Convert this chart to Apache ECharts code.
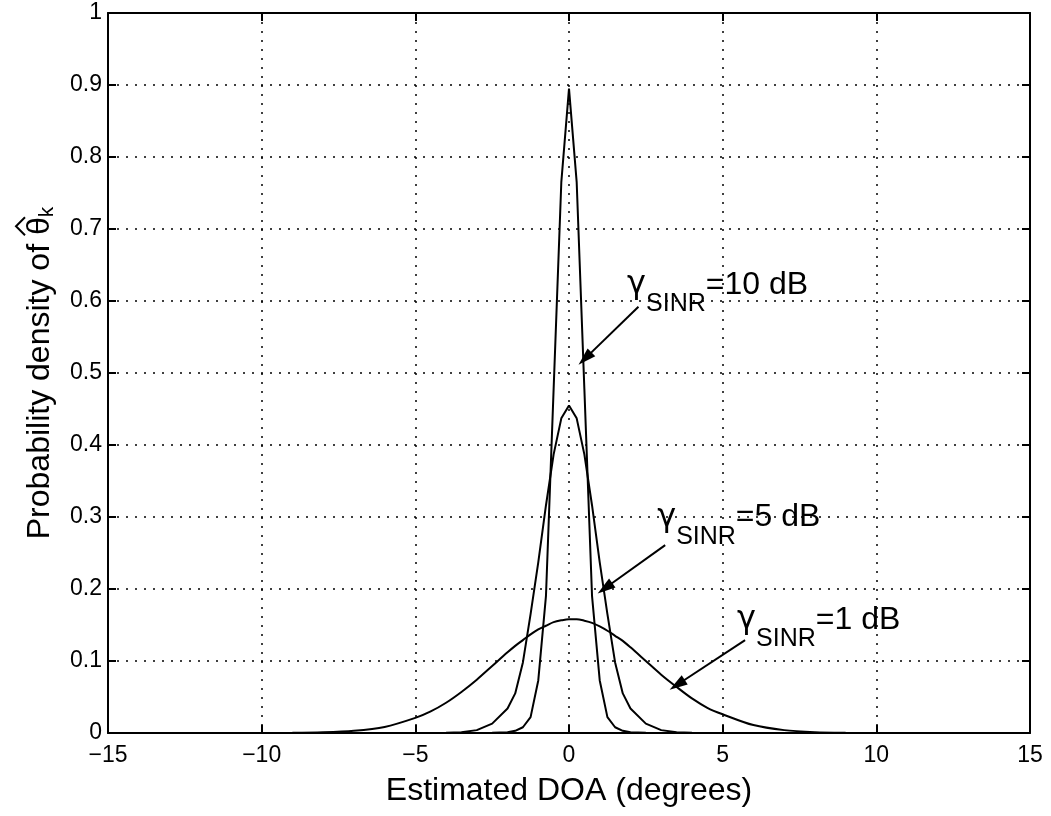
<!DOCTYPE html>
<html><head><meta charset="utf-8">
<script src="https://cdn.jsdelivr.net/npm/echarts@6/dist/echarts.min.js"></script>
<style>html,body{margin:0;padding:0;background:#fff}#c{width:1051px;height:816px}</style>
</head><body><div id="c"></div>
<script>
// ---- data ----
const xs = [-15, -12, -10, -9, -8, -7, -6, -5, -4.5, -4, -3.5, -3, -2.5, -2, -1.75, -1.5, -1.25, -1, -0.75, -0.5, -0.25, 0, 0.25, 0.5, 0.75, 1, 1.25, 1.5, 1.75, 2, 2.5, 3, 3.5, 4, 4.5, 5, 6, 7, 8, 9, 10, 12, 15];
const y10dB = [0, 0, 0, 0, 0, 0, 0, 0, 0, 0, 0, 0, 0.0004, 0.001, 0.003, 0.008, 0.022, 0.073, 0.19, 0.478, 0.765, 0.895, 0.765, 0.478, 0.19, 0.073, 0.022, 0.008, 0.003, 0.001, 0.0004, 0, 0, 0, 0, 0, 0, 0, 0, 0, 0, 0, 0];
const y5dB = [0, 0, 0, 0, 0, 0, 0, 0, 0, 0.0003, 0.001, 0.004, 0.013, 0.034, 0.055, 0.098, 0.165, 0.237, 0.316, 0.387, 0.437, 0.455, 0.437, 0.387, 0.316, 0.237, 0.165, 0.098, 0.055, 0.034, 0.013, 0.004, 0.001, 0.0003, 0, 0, 0, 0, 0, 0, 0, 0, 0];
const y1dB = [0, 0, 0.0001, 0.0002, 0.0009, 0.003, 0.0084, 0.021, 0.030, 0.042, 0.057, 0.074, 0.093, 0.112, 0.121, 0.129, 0.137, 0.144, 0.149, 0.154, 0.1565, 0.158, 0.158, 0.156, 0.153, 0.148, 0.142, 0.135, 0.128, 0.119, 0.100, 0.081, 0.064, 0.048, 0.035, 0.026, 0.011, 0.004, 0.0012, 0.0003, 0.0001, 0, 0];
const seriesNames = ['10 dB', '5 dB', '1 dB'];
const xTickLabels = ['\u221215', '\u221210', '\u22125', '0', '5', '10', '15'];
const yTickLabels = ['0', '0.1', '0.2', '0.3', '0.4', '0.5', '0.6', '0.7', '0.8', '0.9', '1'];
const xTitle = 'Estimated DOA (degrees)';
const yTitleMain = 'Probability density of ';
const yTitleSym = '\u03B8';
const yTitleSub = 'k';
const annGamma = '\u03B3';
const annSub = 'SINR';
const annLabels = ['=10 dB', '=5 dB', '=1 dB'];
const annTextAt = [[1.89, 0.608], [2.87, 0.285], [5.47, 0.143]];
const annTail = [[2.26, 0.592], [3.13, 0.261], [5.73, 0.129]];
const annHead = [[0.52, 0.52], [1.17, 0.201], [3.52, 0.067]];

// ---- chart ----
const FONT = '"Liberation Sans", Arial, Helvetica, sans-serif';
const GFONT = '"DejaVu Sans", sans-serif';
const chart = echarts.init(document.getElementById('c'), null, {renderer: 'canvas'});
const pair = ys => xs.map((x, i) => [x, ys[i]]);
const curves = [y10dB, y5dB, y1dB];

const axisLine = {show: true, onZero: false, lineStyle: {color: '#000', width: 2}};
const axisTick = {show: true, inside: true, length: 8, lineStyle: {color: '#000', width: 2}};
const gridLine = {show: true, lineStyle: {color: '#000', width: 1.5, type: [2, 7]}};

const series = curves.map((ys, i) => ({
  name: seriesNames[i], type: 'line', data: pair(ys), showSymbol: false, symbol: 'none',
  smooth: i === 2 ? 0.3 : false,
  lineStyle: {color: '#000', width: 2}, z: 5,
  markLine: {
    silent: true, animation: false, symbol: ['none', 'triangle'], symbolSize: [11, 18],
    lineStyle: {color: '#000', width: 2, type: 'solid'}, itemStyle: {color: '#000'},
    label: {show: false}, emphasis: {disabled: true},
    data: [[{coord: annTail[i]}, {coord: annHead[i]}]]
  }
}));

chart.setOption({
  animation: false,
  backgroundColor: '#fff',
  grid: {left: 108, right: 21, top: 13, bottom: 83, containLabel: false},
  xAxis: [{
    type: 'value', min: -15, max: 15, interval: 5, position: 'bottom',
    axisLine, axisTick, splitLine: gridLine,
    axisLabel: {color: '#000', fontSize: 23, fontFamily: FONT, margin: 11,
      formatter: v => xTickLabels[Math.round((v + 15) / 5)]},
    name: xTitle, nameLocation: 'middle', nameGap: 42,
    nameTextStyle: {color: '#000', fontSize: 32, fontFamily: FONT}
  }, {
    type: 'value', min: -15, max: 15, interval: 5, position: 'top',
    axisLine, axisTick, splitLine: {show: false}, axisLabel: {show: false}
  }],
  yAxis: [{
    type: 'value', min: 0, max: 1, interval: 0.1, position: 'left',
    axisLine, axisTick, splitLine: gridLine,
    axisLabel: {color: '#000', fontSize: 23, fontFamily: FONT, margin: 6,
      formatter: v => yTickLabels[Math.round(v * 10)]}
  }, {
    type: 'value', min: 0, max: 1, interval: 0.1, position: 'right',
    axisLine, axisTick, splitLine: {show: false}, axisLabel: {show: false}
  }],
  series
});

// ---- annotations and y-axis title (positions from the chart's own scales) ----
const mctx = document.createElement('canvas').getContext('2d');
function tw(text, size, fam) { mctx.font = size + 'px ' + (fam || FONT); return mctx.measureText(text).width; }
const txt = (text, x, y, size, fam) => ({
  type: 'text', x, y, silent: true, z: 20,
  style: {text, font: size + 'px ' + (fam || FONT), fill: '#000', textAlign: 'left', textVerticalAlign: 'middle'}
});

const graphics = [];
const gFs = 32, sFs = 25;
annLabels.forEach((lab, i) => {
  const p = chart.convertToPixel({seriesIndex: 0}, annTextAt[i]);
  const gx = p[0], base = p[1];
  graphics.push(txt(annGamma, gx, base - 0.32 * gFs, gFs, GFONT));
  const sx = gx + tw(annGamma, gFs, GFONT);
  graphics.push(txt(annSub, sx, base + 17 - 0.32 * sFs, sFs));
  const mx = sx + tw(annSub, sFs);
  graphics.push(txt(lab, mx, base - 0.32 * gFs, gFs));
});

// y title: rotated group, text reading bottom-to-top
const yFs = 32, kFs = 21;
const wMain = tw(yTitleMain, yFs), wT = tw(yTitleSym, yFs), wK = tw(yTitleSub, kFs);
const W = wMain + wT + wK;
const yMid = chart.convertToPixel({seriesIndex: 0}, [0, 0.5])[1];
const x0 = -W / 2;
const thC = x0 + wMain + wT / 2;
graphics.push({
  type: 'group', x: 40, y: yMid, rotation: Math.PI / 2, silent: true,
  children: [
    txt(yTitleMain, x0, 0, yFs),
    txt(yTitleSym, x0 + wMain, 0, yFs),
    {type: 'polyline', silent: true, shape: {points: [[thC - 9, -15], [thC, -24], [thC + 9, -15]]},
      style: {stroke: '#000', lineWidth: 2, fill: null}},
    txt(yTitleSub, x0 + wMain + wT, 11 + 3 - 0.32 * kFs, kFs)
  ]
});
chart.setOption({graphic: graphics});
</script>
</body></html>
